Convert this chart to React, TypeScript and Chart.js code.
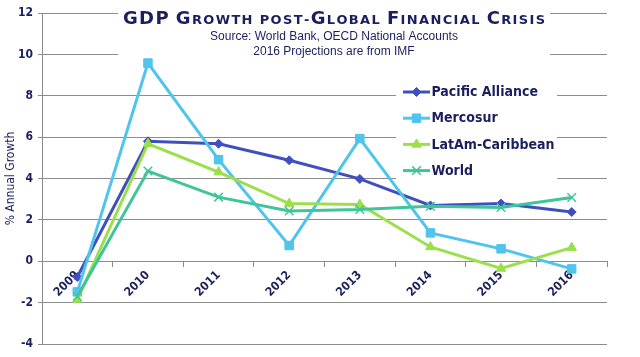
import React, { useEffect, useRef } from 'react';
import { Chart, registerables } from 'chart.js';

Chart.register(...registerables);

// ---- Data ----
const years = ['2009', '2010', '2011', '2012', '2013', '2014', '2015', '2016'];
const pacificAlliance = [-0.76, 5.8, 5.68, 4.88, 3.98, 2.7, 2.79, 2.38];
const mercosur = [-1.48, 9.58, 4.91, 0.76, 5.93, 1.37, 0.6, -0.37];
const latamCaribbean = [-1.85, 5.68, 4.31, 2.79, 2.74, 0.69, -0.35, 0.66];
const world = [-1.7, 4.36, 3.1, 2.43, 2.5, 2.66, 2.6, 3.08];
const seriesNames = ['Pacific Alliance', 'Mercosur', 'LatAm-Caribbean', 'World'];
const yMin = -4;
const yMax = 12;
const yStep = 2;
const titleText = 'GDP Growth post-Global Financial Crisis';
const subtitleLines = ['Source: World Bank, OECD National Accounts', '2016 Projections are from IMF'];
const yAxisTitle = '% Annual Growth';

// ---- Styles ----
const NAVY = '#1b1f5e';
const GRID = '#8c8c8c';
const COLORS = ['#3f4fbf', '#4fc4ec', '#9be04a', '#40c49a'];
const POINT_STYLES = ['rectRot', 'rect', 'triangle', 'crossRot'];
const POINT_RADII = [4.5, 6, 5.5, 6];
const COND = "'DejaVu Sans Condensed', 'DejaVu Sans', sans-serif";
const WIDE = "'DejaVu Sans', sans-serif";
const SANS = "'Liberation Sans', Arial, sans-serif";

function drawMarker(ctx: CanvasRenderingContext2D, style: string, x: number, y: number, r: number, color: string) {
  ctx.save();
  ctx.fillStyle = color;
  ctx.strokeStyle = color;
  ctx.lineWidth = 1;
  ctx.beginPath();
  if (style === 'rectRot') {
    ctx.moveTo(x, y - r);
    ctx.lineTo(x + r, y);
    ctx.lineTo(x, y + r);
    ctx.lineTo(x - r, y);
    ctx.closePath();
    ctx.fill();
    ctx.stroke();
  } else if (style === 'rect') {
    const s = r * Math.SQRT1_2;
    ctx.rect(x - s, y - s, 2 * s, 2 * s);
    ctx.fill();
    ctx.stroke();
  } else if (style === 'triangle') {
    for (let i = 0; i < 3; i++) {
      const a = (i * 2 * Math.PI) / 3;
      const px = x + Math.sin(a) * r;
      const py = y - Math.cos(a) * r;
      if (i === 0) ctx.moveTo(px, py);
      else ctx.lineTo(px, py);
    }
    ctx.closePath();
    ctx.fill();
    ctx.stroke();
  } else {
    ctx.lineWidth = 1.5;
    const d = r * Math.SQRT1_2;
    ctx.moveTo(x - d, y - d);
    ctx.lineTo(x + d, y + d);
    ctx.moveTo(x + d, y - d);
    ctx.lineTo(x - d, y + d);
    ctx.stroke();
  }
  ctx.restore();
}

const overlayPlugin = {
  id: 'overlay',
  beforeDatasetsDraw(chart: any) {
    const ctx = chart.ctx as CanvasRenderingContext2D;
    ctx.save();
    ctx.fillStyle = '#ffffff';
    // title block background
    ctx.fillRect(118, 0, 432, 58);
    // legend background
    ctx.fillRect(396, 80, 161, 105);
    ctx.restore();
  },
  afterDraw(chart: any) {
    const ctx = chart.ctx as CanvasRenderingContext2D;
    ctx.save();
    // ---- Title in small caps ----
    const big = 18;
    const small = 13;
    const targetW = 422;
    const cx = 334;
    const parts: { ch: string; size: number }[] = [];
    for (const ch of titleText) {
      const isLower = ch !== ch.toUpperCase();
      parts.push({ ch: ch.toUpperCase(), size: isLower || ch === ' ' || ch === '-' ? small : big });
    }
    let natural = 0;
    for (const p of parts) {
      ctx.font = `bold ${p.size}px ${WIDE}`;
      natural += ctx.measureText(p.ch).width;
    }
    const spacing = (targetW - natural) / (parts.length - 1);
    let x = cx - targetW / 2;
    ctx.fillStyle = NAVY;
    ctx.textBaseline = 'alphabetic';
    ctx.textAlign = 'left';
    for (const p of parts) {
      ctx.font = `bold ${p.size}px ${WIDE}`;
      ctx.fillText(p.ch, x, 23.5);
      x += ctx.measureText(p.ch).width + spacing;
    }
    // ---- Subtitle ----
    ctx.font = `12px ${SANS}`;
    ctx.textAlign = 'center';
    ctx.textBaseline = 'middle';
    ctx.fillText(subtitleLines[0], cx, 37);
    ctx.fillText(subtitleLines[1], cx, 52);

    // ---- Legend ----
    const lx0 = 403;
    const lx1 = 430;
    const ly0 = 92;
    const step = 26.2;
    ctx.textAlign = 'left';
    ctx.textBaseline = 'middle';
    chart.data.datasets.forEach((ds: any, i: number) => {
      const y = ly0 + i * step;
      ctx.save();
      ctx.strokeStyle = COLORS[i];
      ctx.lineWidth = 3;
      ctx.beginPath();
      ctx.moveTo(lx0, y);
      ctx.lineTo(lx1, y);
      ctx.stroke();
      ctx.restore();
      drawMarker(ctx, POINT_STYLES[i], (lx0 + lx1) / 2, y, POINT_RADII[i], COLORS[i]);
      ctx.fillStyle = NAVY;
      ctx.font = `bold 14px ${COND}`;
      ctx.fillText(ds.label, lx1 + 1.5, y + 0.5);
    });
    ctx.restore();
  },
};

export default function App() {
  const canvasRef = useRef<HTMLCanvasElement | null>(null);

  useEffect(() => {
    const canvas = canvasRef.current;
    if (!canvas) return;
    const seriesData = [pacificAlliance, mercosur, latamCaribbean, world];
    const chart = new Chart(canvas, {
      type: 'line',
      data: {
        labels: years,
        datasets: seriesData.map((d, i) => ({
          label: seriesNames[i],
          data: d,
          borderColor: COLORS[i],
          backgroundColor: COLORS[i],
          borderWidth: 3,
          pointStyle: POINT_STYLES[i] as any,
          pointRadius: POINT_RADII[i],
          pointBorderWidth: i === 3 ? 1.5 : 1,
          pointBorderColor: COLORS[i],
          pointBackgroundColor: COLORS[i],
          tension: 0,
          fill: false,
          order: 4 - i,
        })),
      },
      options: {
        responsive: false,
        animation: false,
        devicePixelRatio: 1,
        layout: { padding: { left: 0, right: 33, top: 13, bottom: 13 } },
        plugins: {
          legend: { display: false },
          title: { display: false },
          tooltip: { enabled: false },
        },
        scales: {
          x: {
            type: 'category',
            position: { y: 0 } as any,
            offset: true,
            grid: {
              offset: true,
              drawOnChartArea: false,
              drawTicks: true,
              tickLength: 5,
              color: GRID,
            },
            border: { display: true, color: GRID, width: 1 },
            ticks: {
              minRotation: 45,
              maxRotation: 45,
              autoSkip: false,
              padding: 2,
              color: NAVY,
              font: { family: COND, size: 12, weight: 'bold' },
            },
            afterFit: (s: any) => {
              s.height = 0;
              s.paddingLeft = 0;
              s.paddingRight = 0;
            },
          } as any,
          y: {
            min: yMin,
            max: yMax,
            grid: { color: GRID, tickLength: 4, drawTicks: true },
            border: { display: true, color: GRID, width: 1 },
            ticks: {
              stepSize: yStep,
              padding: 5,
              color: NAVY,
              font: { family: COND, size: 12, weight: 'bold' },
            },
            title: {
              display: true,
              text: yAxisTitle,
              color: NAVY,
              padding: { top: 4, bottom: 0 },
              font: { family: COND, size: 12, weight: 'normal' },
            },
            afterFit: (s: any) => {
              s.width = 42;
              s.paddingTop = 0;
              s.paddingBottom = 0;
            },
          } as any,
        },
      },
      plugins: [overlayPlugin],
    });
    return () => chart.destroy();
  }, []);

  return (
    <div style={{ position: 'fixed', left: 0, top: 0, width: 640, height: 357, background: '#fff' }}>
      <canvas ref={canvasRef} width={640} height={357} style={{ display: 'block' }} />
    </div>
  );
}
